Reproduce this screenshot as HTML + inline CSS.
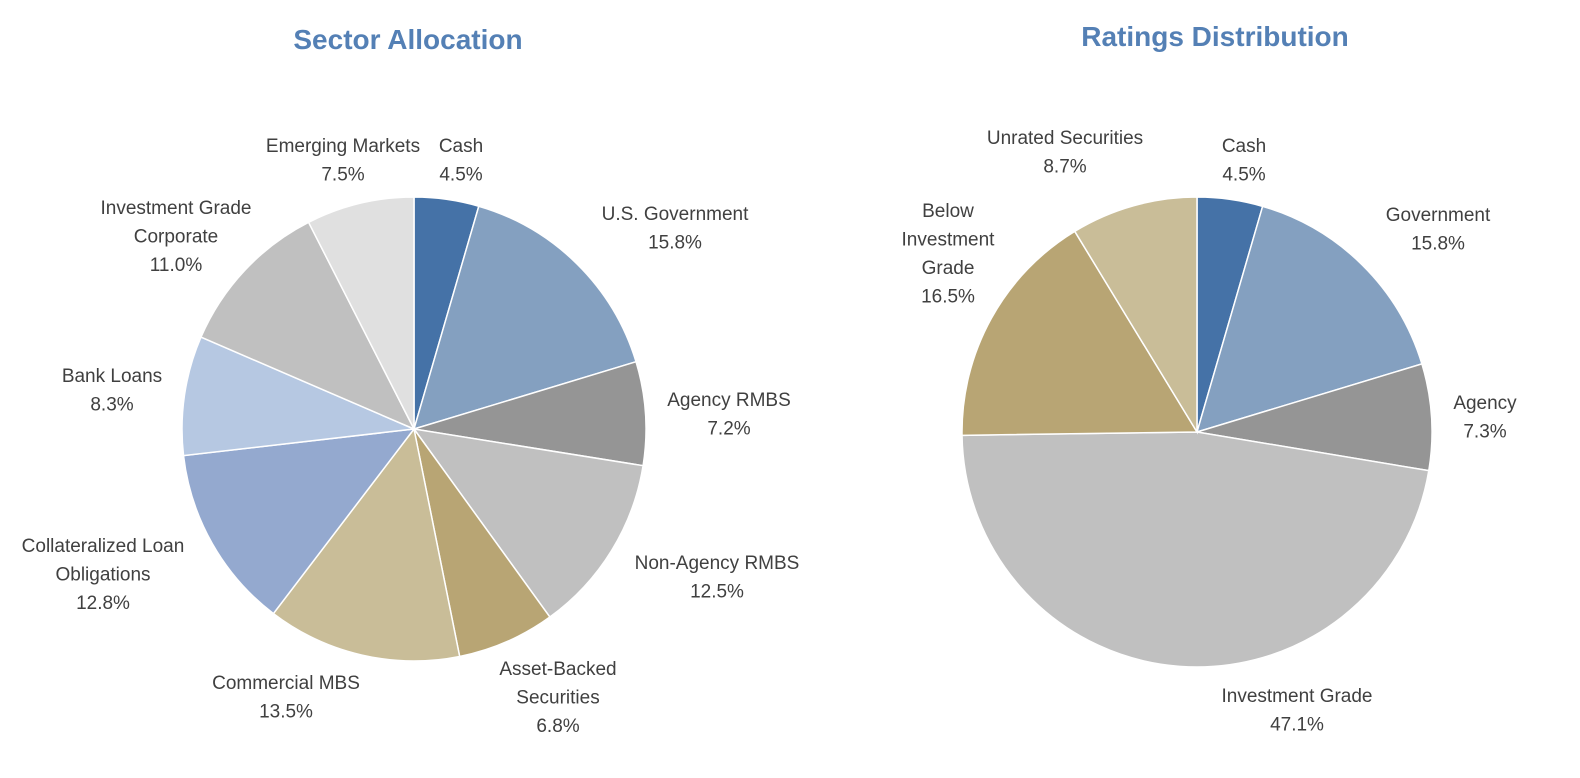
<!DOCTYPE html>
<html><head><meta charset="utf-8"><style>
html,body{margin:0;padding:0;background:#fff;}
svg{display:block;font-family:"Liberation Sans",sans-serif;}
</style></head><body>
<svg id="chart" width="1580" height="778" viewBox="0 0 1580 778">
<text x="408" y="49" text-anchor="middle" font-size="28" font-weight="bold" fill="#5480b5">Sector Allocation</text>
<text x="1215" y="46" text-anchor="middle" font-size="28" font-weight="bold" fill="#5480b5">Ratings Distribution</text>
<g id="left"></g><g id="right"></g>
</svg>
<script>
const sectorCategories = [["Cash"],["U.S. Government"],["Agency RMBS"],["Non-Agency RMBS"],["Asset-Backed","Securities"],["Commercial MBS"],["Collateralized Loan","Obligations"],["Bank Loans"],["Investment Grade","Corporate"],["Emerging Markets"]];
const sectorValues = [4.5,15.8,7.2,12.5,6.8,13.5,12.8,8.3,11.0,7.5];
const sectorColors = ["#4572a7","#84a0c0","#959595","#c0c0c0","#b8a574","#c9bd98","#94a9cf","#b6c8e2","#c0c0c0","#e0e0e0"];
const sectorLabelPos = [[461,145],[675,213],[729,399],[717,562],[558,668],[286,682],[103,545],[112,375],[176,207],[343,145]];

const ratingCategories = [["Cash"],["Government"],["Agency"],["Investment Grade"],["Below","Investment","Grade"],["Unrated Securities"]];
const ratingValues = [4.5,15.8,7.3,47.1,16.5,8.7];
const ratingColors = ["#4572a7","#84a0c0","#959595","#c0c0c0","#b8a574","#c9bd98"];
const ratingLabelPos = [[1244,145],[1438,214],[1485,402],[1297,695],[948,210],[1065,137]];

const NS="http://www.w3.org/2000/svg";
function drawPie(gid, cx, cy, r, cats, vals, cols, pos, prefix){
  const g=document.getElementById(gid);
  const total=vals.reduce((a,b)=>a+b,0);
  let a0=-Math.PI/2;
  vals.forEach((v,i)=>{
    const a1=a0+v/total*2*Math.PI;
    const x0=cx+r*Math.cos(a0), y0=cy+r*Math.sin(a0);
    const x1=cx+r*Math.cos(a1), y1=cy+r*Math.sin(a1);
    const large=(a1-a0)>Math.PI?1:0;
    const p=document.createElementNS(NS,"path");
    p.setAttribute("d",`M${cx},${cy} L${x0},${y0} A${r},${r} 0 ${large} 1 ${x1},${y1} Z`);
    p.setAttribute("fill",cols[i]);
    p.setAttribute("stroke","#fff");
    p.setAttribute("stroke-width","1.5");
    
    
    g.appendChild(p);
    a0=a1;
    const t=document.createElementNS(NS,"text");
    t.setAttribute("text-anchor","middle");
    t.setAttribute("font-size","19");
    t.setAttribute("fill","#404040");
    
    
    const lines=cats[i].concat([v.toFixed(1)+"%"]);
    lines.forEach((ln,k)=>{
      const ts=document.createElementNS(NS,"tspan");
      ts.setAttribute("x",pos[i][0]);
      ts.setAttribute("y",pos[i][1]+7+k*28.5);
      ts.textContent=ln;
      t.appendChild(ts);
    });
    g.appendChild(t);
  });
}
drawPie("left",414,429,232,sectorCategories,sectorValues,sectorColors,sectorLabelPos,"sector");
drawPie("right",1197,432,235,ratingCategories,ratingValues,ratingColors,ratingLabelPos,"rating");
</script>
</body></html>
